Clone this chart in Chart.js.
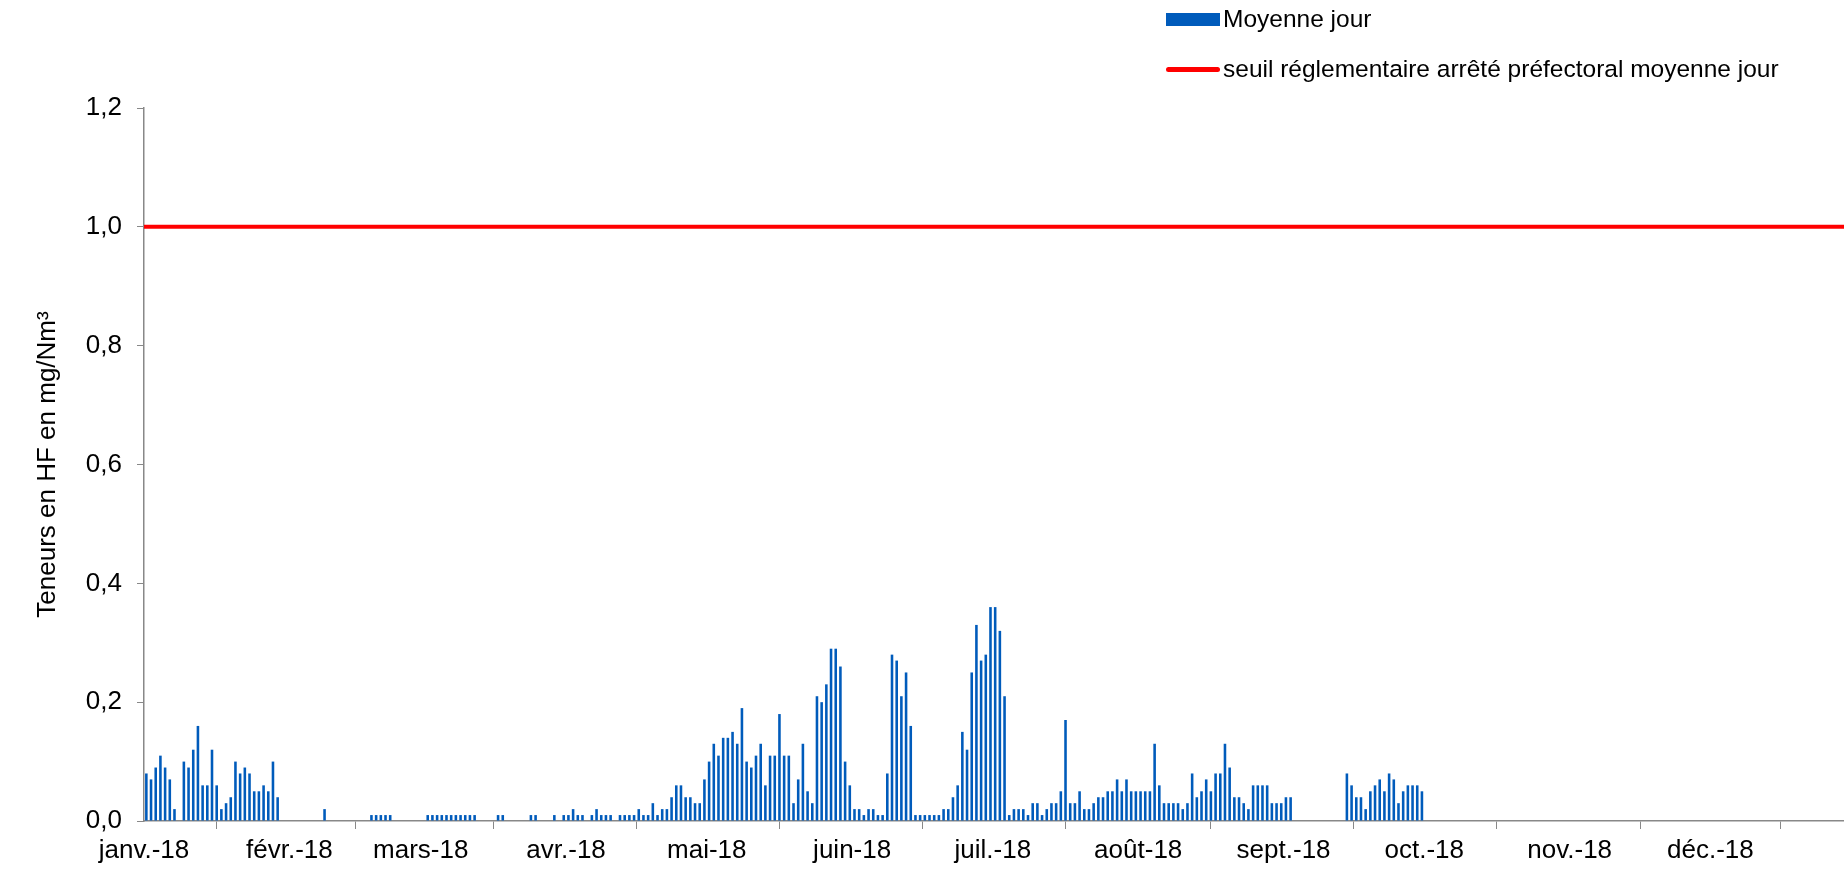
<!DOCTYPE html>
<html>
<head>
<meta charset="utf-8">
<script src="https://cdn.jsdelivr.net/npm/chart.js@4/dist/chart.umd.min.js"></script>
<style>
  html, body { margin: 0; padding: 0; background: #fff; }
  #wrap { position: relative; width: 1844px; height: 869px; font-family: 'Liberation Sans', Arial, sans-serif; }
  #legend { position: absolute; left: 1166px; top: 0; font-size: 24.5px; color: #000; }
  .item { position: absolute; white-space: nowrap; display: flex; align-items: center; }
  .swatch { display: inline-block; width: 54px; margin-right: 3px; }
</style>
</head>
<body>
<div id="wrap">
  <canvas id="myChart" width="1844" height="869"></canvas>
  <div id="legend">
    <div class="item" style="top: 5px;"><span class="swatch" style="height: 13px; background: #005BBB;"></span>Moyenne jour</div>
    <div class="item" style="top: 55px;"><span class="swatch" style="height: 5px; background: #FF0000; border-radius: 3px;"></span>seuil réglementaire arrêté préfectoral moyenne jour</div>
  </div>
</div>
<script>
'use strict';

const monthLabels = ['janv.-18', 'févr.-18', 'mars-18', 'avr.-18', 'mai-18', 'juin-18', 'juil.-18', 'août-18', 'sept.-18', 'oct.-18', 'nov.-18', 'déc.-18'];
const monthDays = [31, 28, 31, 30, 31, 30, 31, 31, 30, 31, 30, 31];
const yTicks = [0, 0.2, 0.4, 0.6, 0.8, 1.0, 1.2];
const threshold = 1.0;

// daily means (mg/Nm3), one array per month, null = no measure
const jan = [0.08, 0.07, 0.09, 0.11, 0.09, 0.07, 0.02, null, 0.10, 0.09, 0.12, 0.16, 0.06, 0.06, 0.12, 0.06, 0.02, 0.03, 0.04, 0.10, 0.08, 0.09, 0.08, 0.05, 0.05, 0.06, 0.05, 0.10, 0.04, null, null];
const feb = [null, null, null, null, null, null, null, 0.02, null, null, null, null, null, null, null, null, null, 0.01, 0.01, 0.01, 0.01, 0.01, null, null, null, null, null, null];
const mar = [null, 0.01, 0.01, 0.01, 0.01, 0.01, 0.01, 0.01, 0.01, 0.01, 0.01, 0.01, null, null, null, null, 0.01, 0.01, null, null, null, null, null, 0.01, 0.01, null, null, null, 0.01, null, 0.01];
const apr = [0.01, 0.02, 0.01, 0.01, null, 0.01, 0.02, 0.01, 0.01, 0.01, null, 0.01, 0.01, 0.01, 0.01, 0.02, 0.01, 0.01, 0.03, 0.01, 0.02, 0.02, 0.04, 0.06, 0.06, 0.04, 0.04, 0.03, 0.03, 0.07];
const may = [0.10, 0.13, 0.11, 0.14, 0.14, 0.15, 0.13, 0.19, 0.10, 0.09, 0.11, 0.13, 0.06, 0.11, 0.11, 0.18, 0.11, 0.11, 0.03, 0.07, 0.13, 0.05, 0.03, 0.21, 0.20, 0.23, 0.29, 0.29, 0.26, 0.10, 0.06];
const jun = [0.02, 0.02, 0.01, 0.02, 0.02, 0.01, 0.01, 0.08, 0.28, 0.27, 0.21, 0.25, 0.16, 0.01, 0.01, 0.01, 0.01, 0.01, 0.01, 0.02, 0.02, 0.04, 0.06, 0.15, 0.12, 0.25, 0.33, 0.27, 0.28, 0.36];
const jul = [0.36, 0.32, 0.21, 0.01, 0.02, 0.02, 0.02, 0.01, 0.03, 0.03, 0.01, 0.02, 0.03, 0.03, 0.05, 0.17, 0.03, 0.03, 0.05, 0.02, 0.02, 0.03, 0.04, 0.04, 0.05, 0.05, 0.07, 0.05, 0.07, 0.05, 0.05];
const aug = [0.05, 0.05, 0.05, 0.13, 0.06, 0.03, 0.03, 0.03, 0.03, 0.02, 0.03, 0.08, 0.04, 0.05, 0.07, 0.05, 0.08, 0.08, 0.13, 0.09, 0.04, 0.04, 0.03, 0.02, 0.06, 0.06, 0.06, 0.06, 0.03, 0.03, 0.03];
const sep = [0.04, 0.04, null, null, null, null, null, null, null, null, null, null, null, 0.08, 0.06, 0.04, 0.04, 0.02, 0.05, 0.06, 0.07, 0.05, 0.08, 0.07, 0.03, 0.05, 0.06, 0.06, 0.06, 0.05];
const oct = [];
const nov = [];
const dec = [];

const months = [jan, feb, mar, apr, may, jun, jul, aug, sep, oct, nov, dec];

// day index on a linear x axis: day d sits in [d, d+1], months start at their first day
const monthStarts = [];
const dailyPoints = [];
let dayIndex = 0;
for (let m = 0; m < 12; m++) {
  monthStarts.push(dayIndex);
  for (let d = 0; d < monthDays[m]; d++) {
    const v = months[m][d];
    if (v !== undefined && v !== null) {
      dailyPoints.push({ x: dayIndex + 0.5, y: v });
    }
    dayIndex++;
  }
}
const yearDays = dayIndex;
// the original plot runs a little past the right edge of the picture
const visibleDays = 362.5;

const fontFamily = "'Liberation Sans', Arial, sans-serif";

const data = {
  datasets: [
    {
      type: 'line',
      label: 'seuil réglementaire arrêté préfectoral moyenne jour',
      data: [{ x: 0, y: threshold }, { x: yearDays, y: threshold }],
      borderColor: '#FF0000',
      borderWidth: 4,
      pointRadius: 0,
      order: 0,
    },
    {
      type: 'bar',
      label: 'Moyenne jour',
      data: dailyPoints,
      backgroundColor: '#005BBB',
      barPercentage: 0.55,
      categoryPercentage: 1,
      order: 1,
    },
  ],
};

const config = {
  type: 'bar',
  data: data,
  options: {
    responsive: false,
    animation: false,
    layout: { padding: { top: 108, right: 0, bottom: 0, left: 0 } },
    plugins: {
      legend: { display: false },
      tooltip: { enabled: false },
    },
    scales: {
      x: {
        type: 'linear',
        min: 0,
        max: visibleDays,
        offset: false,
        afterBuildTicks: (scale) => {
          scale.ticks = monthStarts.map(v => ({ value: v }));
        },
        afterFit: (scale) => { scale.height = 48; },
        ticks: {
          autoSkip: false,
          maxRotation: 0,
          color: '#000',
          font: { family: fontFamily, size: 26 },
          padding: 6,
          callback: (value) => monthLabels[monthStarts.indexOf(value)] || '',
        },
        grid: { display: true, drawOnChartArea: false, color: '#888', tickLength: 8 },
        border: { color: '#888', width: 1.5 },
      },
      y: {
        min: 0,
        max: 1.2,
        afterBuildTicks: (scale) => {
          scale.ticks = yTicks.map(v => ({ value: v }));
        },
        afterFit: (scale) => { scale.width = 144; },
        ticks: {
          color: '#000',
          font: { family: fontFamily, size: 26 },
          padding: 15,
          callback: (value) => value.toFixed(1).replace('.', ','),
        },
        title: {
          display: true,
          text: 'Teneurs en HF en mg/Nm³',
          color: '#000',
          font: { family: fontFamily, size: 26 },
          padding: { top: 32, bottom: 0 },
        },
        grid: { display: true, drawOnChartArea: false, color: '#888', tickLength: 7 },
        border: { color: '#888', width: 1.5 },
      },
    },
  },
};

const canvasChart = document.getElementById('myChart');
new Chart(canvasChart, config);
</script>
</body>
</html>
